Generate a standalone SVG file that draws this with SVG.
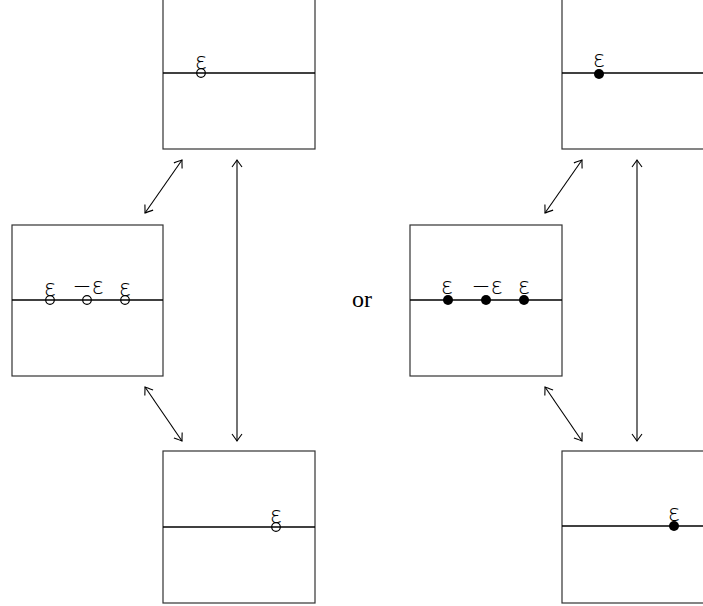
<svg xmlns="http://www.w3.org/2000/svg" width="703" height="606" viewBox="0 0 703 606">
<style>
.box{fill:none;stroke:#333;stroke-width:1.2}
.axis{stroke:#000;stroke-width:1.6}
.open{fill:none;stroke:#000;stroke-width:1.2}
.dot{fill:#000}
.lab{font-family:"DejaVu Sans",sans-serif;font-size:23px;font-weight:300;text-anchor:middle;fill:#000}
.con{stroke:#000;stroke-width:1.1;fill:none;marker-start:url(#ah);marker-end:url(#ah)}
.or{font-family:"Liberation Serif",serif;font-size:24px;fill:#000}
</style>
<defs>
<marker id="ah" viewBox="-9 -7 11 14" markerWidth="11" markerHeight="14" refX="0" refY="0" orient="auto-start-reverse" markerUnits="userSpaceOnUse">
<path d="M-7,-5 Q-1.5,-1 0,0 Q-1.5,1 -7,5" fill="none" stroke="#000" stroke-width="1.1"/>
</marker>
</defs>
<g id="connectors">
<line class="con" x1="182" y1="160" x2="145" y2="213"/>
<line class="con" x1="237" y1="160" x2="237" y2="441"/>
<line class="con" x1="145" y1="387" x2="182" y2="441"/>
<line class="con" x1="582" y1="160" x2="545" y2="213"/>
<line class="con" x1="637" y1="160" x2="637" y2="441"/>
<line class="con" x1="545" y1="387" x2="582" y2="441"/>
</g>
<g id="top-left">
<rect class="box" x="163" y="-4" width="152" height="153"/>
<line class="axis" x1="163" y1="73" x2="315" y2="73"/>
<circle class="open" cx="201" cy="73" r="4.3"/>
<text class="lab" x="201" y="69">ε</text>
</g>
<g id="mid-left">
<rect class="box" x="12" y="225" width="151" height="151"/>
<line class="axis" x1="12" y1="300" x2="163" y2="300"/>
<circle class="open" cx="50" cy="300" r="4.3"/>
<circle class="open" cx="87" cy="300" r="4.3"/>
<circle class="open" cx="125" cy="300" r="4.3"/>
<text class="lab" x="50" y="296">ε</text>
<text class="lab" x="88" y="294">−ε</text>
<text class="lab" x="125" y="296">ε</text>
</g>
<g id="bottom-left">
<rect class="box" x="163" y="451" width="152" height="152"/>
<line class="axis" x1="163" y1="527" x2="315" y2="527"/>
<circle class="open" cx="276" cy="527" r="4.3"/>
<text class="lab" x="276" y="523">ε</text>
</g>
<text class="or" x="352" y="307">or</text>
<g id="top-right">
<rect class="box" x="562" y="-4" width="160" height="153"/>
<line class="axis" x1="562" y1="73" x2="703" y2="73"/>
<circle class="dot" cx="599" cy="74" r="5"/>
<text class="lab" x="599" y="67">ε</text>
</g>
<g id="mid-right">
<rect class="box" x="410" y="225" width="152" height="151"/>
<line class="axis" x1="410" y1="300" x2="562" y2="300"/>
<circle class="dot" cx="448" cy="300" r="5"/>
<circle class="dot" cx="486" cy="300" r="5"/>
<circle class="dot" cx="524" cy="300" r="5"/>
<text class="lab" x="447" y="294">ε</text>
<text class="lab" x="487" y="294">−ε</text>
<text class="lab" x="524" y="294">ε</text>
</g>
<g id="bottom-right">
<rect class="box" x="562" y="451" width="160" height="152"/>
<line class="axis" x1="562" y1="526" x2="703" y2="526"/>
<circle class="dot" cx="674" cy="526" r="5"/>
<text class="lab" x="674" y="521">ε</text>
</g>
</svg>
